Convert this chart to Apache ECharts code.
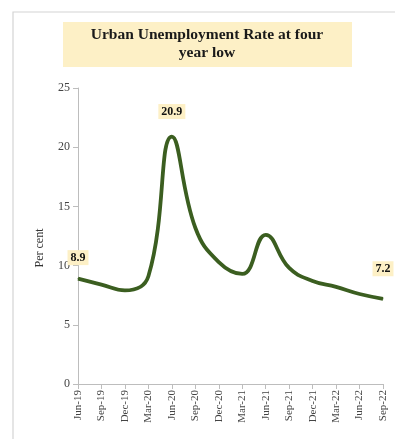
<!DOCTYPE html>
<html><head><meta charset="utf-8">
<script src="https://cdn.jsdelivr.net/npm/echarts@6/dist/echarts.min.js"></script>
<style>html,body{margin:0;padding:0;background:#fff}#c{width:395px;height:439px}</style>
</head><body><div id="c"></div>
<script>
var categories = ["Jun-19","Sep-19","Dec-19","Mar-20","Jun-20","Sep-20","Dec-20","Mar-21","Jun-21","Sep-21","Dec-21","Mar-22","Jun-22","Sep-22"];
var rates = [8.9, 8.4, 7.9, 9.1, 20.9, 13.2, 10.3, 9.3, 12.6, 9.8, 8.7, 8.2, 7.6, 7.2];
var labelledIdx = [0, 4, 13];
var labelGaps = [13, 17, 22];
var titleLines = "Urban Unemployment Rate at four\nyear low";
var yTicks = {min: 0, max: 25, interval: 5};

var serif = '"Liberation Serif","Times New Roman",serif';
var data = rates.map(function (v, i) {
  var k = labelledIdx.indexOf(i);
  if (k < 0) return v;
  return {value: v, label: {show: true, position: 'top', distance: labelGaps[k],
    backgroundColor: '#fdf0c6', padding: [2, 3, 1, 3], fontFamily: serif, fontWeight: 'bold',
    fontSize: 12, color: '#111', formatter: function (p) { return p.value.toFixed(1); }}};
});
var chart = echarts.init(document.getElementById('c'), null, {renderer: 'canvas'});
chart.setOption({
  animation: false,
  backgroundColor: '#fff',
  graphic: [
    {type: 'rect', shape: {x: 13, y: 12, width: 400, height: 440}, style: {fill: 'none', stroke: '#d4d4d4', lineWidth: 1.2}, silent: true},
    {type: 'rect', shape: {x: 63, y: 22, width: 289, height: 45}, style: {fill: '#fdf0c6'}, silent: true},
    {type: 'text', x: 207, y: 44, style: {text: titleLines, fontFamily: serif, fontWeight: 'bold', fontSize: 15.5,
      fill: '#1a1a1a', align: 'center', verticalAlign: 'middle', lineHeight: 18}, silent: true}
  ],
  grid: {left: 78, top: 88, right: 12, bottom: 55},
  xAxis: {
    type: 'category', data: categories, boundaryGap: false,
    axisLine: {lineStyle: {color: '#bdbdbd'}},
    axisTick: {show: true, alignWithLabel: true, lineStyle: {color: '#bdbdbd'}},
    axisLabel: {rotate: 90, fontFamily: serif, fontSize: 11, color: '#444', interval: 0, margin: 6}
  },
  yAxis: {
    type: 'value', min: yTicks.min, max: yTicks.max, interval: yTicks.interval,
    name: 'Per cent', nameLocation: 'middle', nameGap: 32,
    nameTextStyle: {fontFamily: serif, fontSize: 12, color: '#333', padding: [0, 24, 0, 0]},
    splitLine: {show: false},
    axisLine: {show: true, lineStyle: {color: '#bdbdbd'}},
    axisTick: {show: true, lineStyle: {color: '#bdbdbd'}},
    axisLabel: {fontFamily: serif, fontSize: 12, color: '#444', margin: 8}
  },
  series: [{
    type: 'line', data: data, smooth: 0.45, showSymbol: true, showAllSymbol: true, symbol: 'circle', symbolSize: 1,
    itemStyle: {color: '#3b5e20'},
    lineStyle: {color: '#3b5e20', width: 3.8},
    label: {show: false},
    labelLayout: {hideOverlap: false}
  }]
});
</script></body></html>
